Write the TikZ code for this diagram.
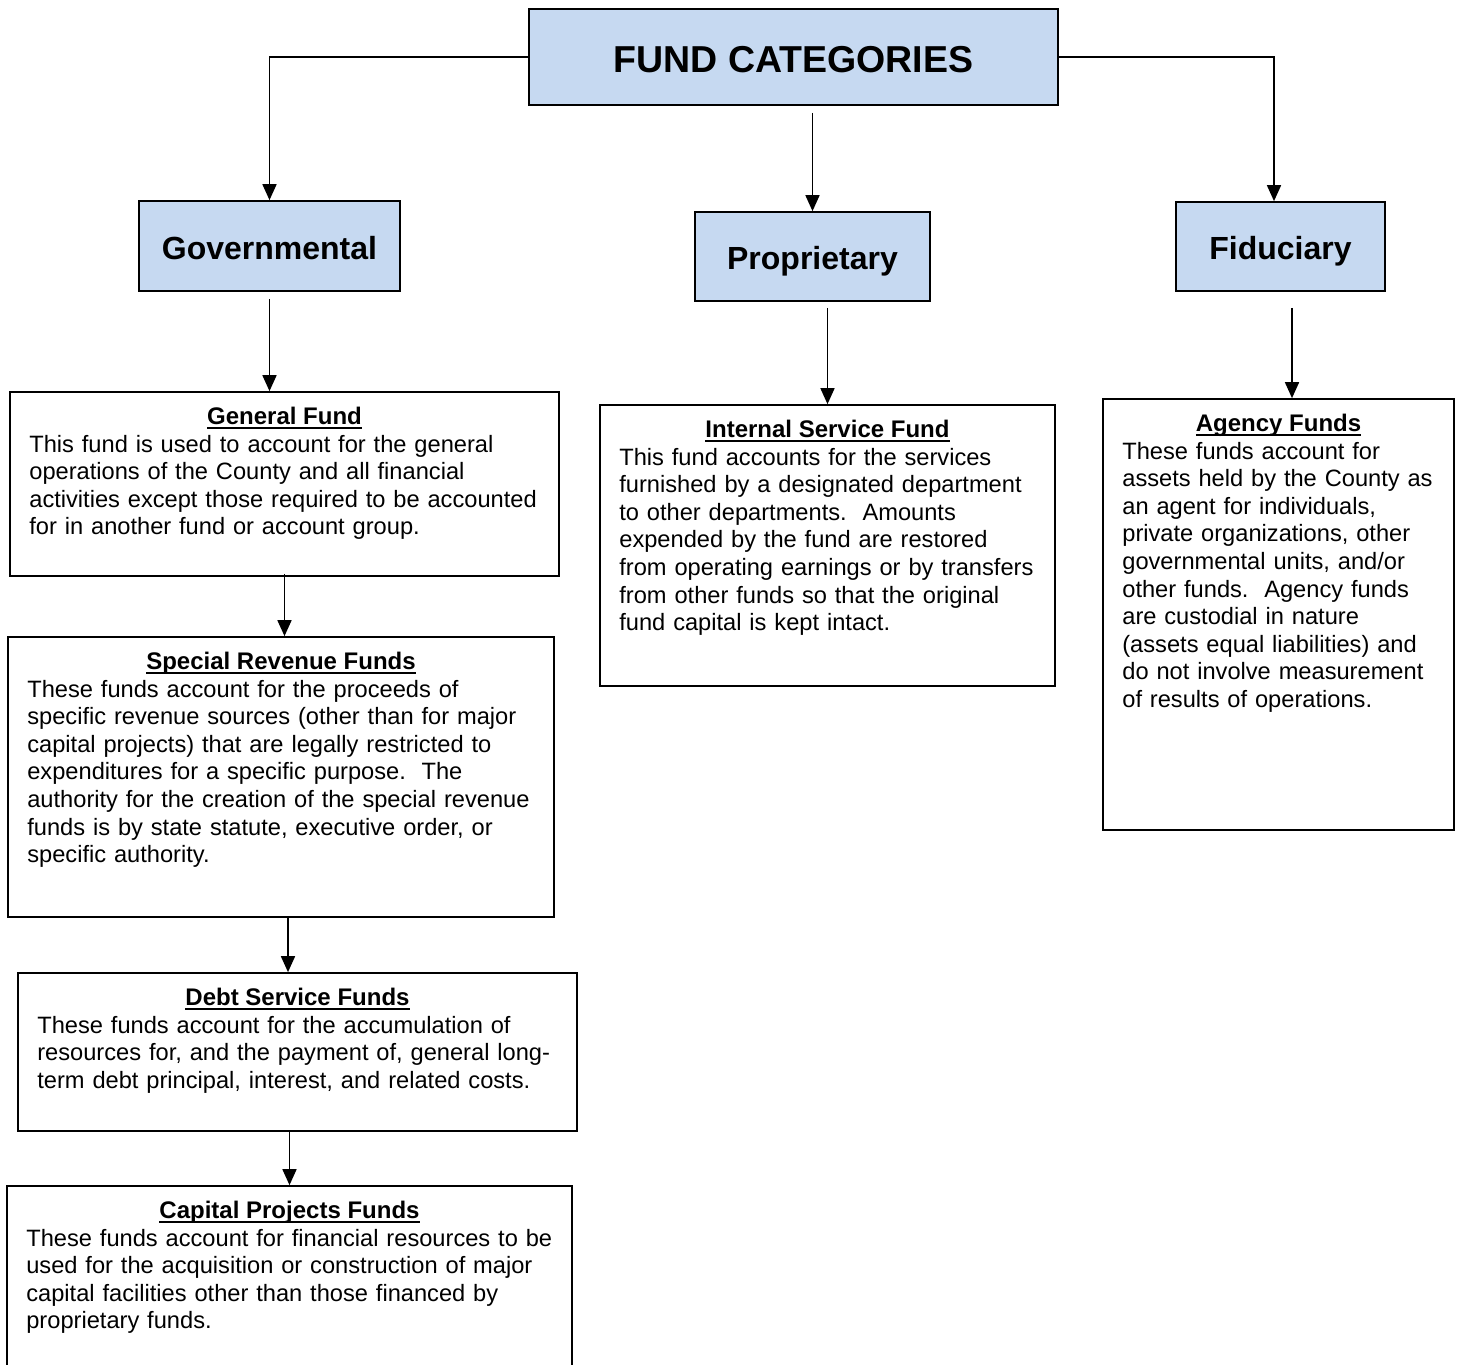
\documentclass[tikz,border=0pt]{standalone}
\usepackage{fontspec}
\setmainfont{Liberation Sans}
\usetikzlibrary{arrows.meta,calc}
\definecolor{catblue}{HTML}{C6D9F1}
\newcommand{\fundul}[1]{\setbox0\hbox{#1}\rlap{\rule[-4.5pt]{\wd0}{2pt}}\box0}
\begin{document}
\begin{tikzpicture}[x=1pt,y=-1pt,
  catbox/.style={draw=black,line width=1.7pt,fill=catblue,inner sep=0pt,text height=26pt,text depth=0pt,font=\fontsize{32}{36}\selectfont\bfseries},
  fundbox/.style={draw=black,line width=1.7pt,fill=white,inner sep=0pt},
  fundtitle/.style={anchor=base,inner sep=0pt,font=\fontsize{24}{27.6}\selectfont\bfseries},
  fundbody/.style={anchor=base west,inner sep=0pt,align=left,text width=700pt,font=\fontsize{23.65}{27.6}\selectfont},
  arr/.style={line width=1.7pt,-{Triangle[length=16pt,width=14pt]}}]
\clip (0,0) rectangle (1459,1365);
\fill[white] (0,0) rectangle (1459,1365);
% top category box
\node[catbox,minimum width=529pt,minimum height=96pt,text height=30.8pt,font=\fontsize{37.5}{40}\selectfont\bfseries] (fc) at (793.5,57) {FUND CATEGORIES};
\node[catbox,minimum width=261pt,minimum height=90pt] (gov) at (269.5,246) {Governmental};
\node[catbox,minimum width=235pt,minimum height=89pt] (prop) at (812.5,256.5) {Proprietary};
\node[catbox,minimum width=209pt,minimum height=89pt] (fid) at (1280.5,246.5) {Fiduciary};
% fund boxes
\node[fundbox,minimum width=549pt,minimum height=184pt] (gen) at (284.5,484) {};
\node[fundbox,minimum width=455pt,minimum height=281pt] (isf) at (827.5,545.5) {};
\node[fundbox,minimum width=351pt,minimum height=431pt] (agf) at (1278.5,614.5) {};
\node[fundbox,minimum width=546pt,minimum height=280pt] (srf) at (281,777) {};
\node[fundbox,minimum width=559pt,minimum height=158pt] (dsf) at (297.5,1052) {};
\node[fundbox,minimum width=565pt,minimum height=220pt] (cpf) at (289.5,1296) {};
% titles
\node[fundtitle] (gent) at ($(gen.north)+(0,33)$) {\fundul{General Fund}};
\node[fundtitle] (isft) at ($(isf.north)+(0,33)$) {\fundul{Internal Service Fund}};
\node[fundtitle] (agft) at ($(agf.north)+(0,33)$) {\fundul{Agency Funds}};
\node[fundtitle] (srft) at ($(srf.north)+(0,33)$) {\fundul{Special Revenue Funds}};
\node[fundtitle] (dsft) at ($(dsf.north)+(0,33)$) {\fundul{Debt Service Funds}};
\node[fundtitle] (cpft) at ($(cpf.north)+(0,33)$) {\fundul{Capital Projects Funds}};
% bodies
\node[fundbody] (genb) at ($(gen.north west)+(20,61)$) {This fund is used to account for the general\\operations of the County and all financial\\activities except those required to be accounted\\for in another fund or account group.};
\node[fundbody] (isfb) at ($(isf.north west)+(20,61)$) {This fund accounts for the services\\furnished by a designated department\\to other departments.\ \ Amounts\\expended by the fund are restored\\from operating earnings or by transfers\\from other funds so that the original\\fund capital is kept intact.};
\node[fundbody] (agfb) at ($(agf.north west)+(20,61)$) {These funds account for\\assets held by the County as\\an agent for individuals,\\private organizations, other\\governmental units, and/or\\other funds.\ \ Agency funds\\are custodial in nature\\(assets equal liabilities) and\\do not involve measurement\\of results of operations.};
\node[fundbody] (srfb) at ($(srf.north west)+(20,61)$) {These funds account for the proceeds of\\specific revenue sources (other than for major\\capital projects) that are legally restricted to\\expenditures for a specific purpose.\ \ The\\authority for the creation of the special revenue\\funds is by state statute, executive order, or\\specific authority.};
\node[fundbody] (dsfb) at ($(dsf.north west)+(20,61)$) {These funds account for the accumulation of\\resources for, and the payment of, general long-\\term debt principal, interest, and related costs.};
\node[fundbody] (cpfb) at ($(cpf.north west)+(20,61)$) {These funds account for financial resources to be\\used for the acquisition or construction of major\\capital facilities other than those financed by\\proprietary funds.};
% connectors
\draw[arr] (fc.west) -| (gov.north);
\draw[arr] (fc.east) -| ($(fid.north)+(-6.5,0)$);
\draw[arr] ([yshift=-7pt]fc.south -| prop.north) -- (prop.north);
\draw[arr] ([yshift=-7pt]gov.south) -- (gov.south |- gen.north);
\draw[arr] ([yshift=-6pt]prop.south -| isf.north) -- (isf.north);
\draw[arr] ([xshift=11.5pt,yshift=-16pt]fid.south) -- ($(fid.south |- agf.north)+(11.5,0)$);
\draw[arr] ([yshift=3pt]gen.south) -- (gen.south |- srf.north);
\draw[arr] ([xshift=7pt]srf.south) -- ($(srf.south |- dsf.north)+(7,0)$);
\draw[arr] (cpf.north |- dsf.south) -- (cpf.north);
\end{tikzpicture}
\end{document}
